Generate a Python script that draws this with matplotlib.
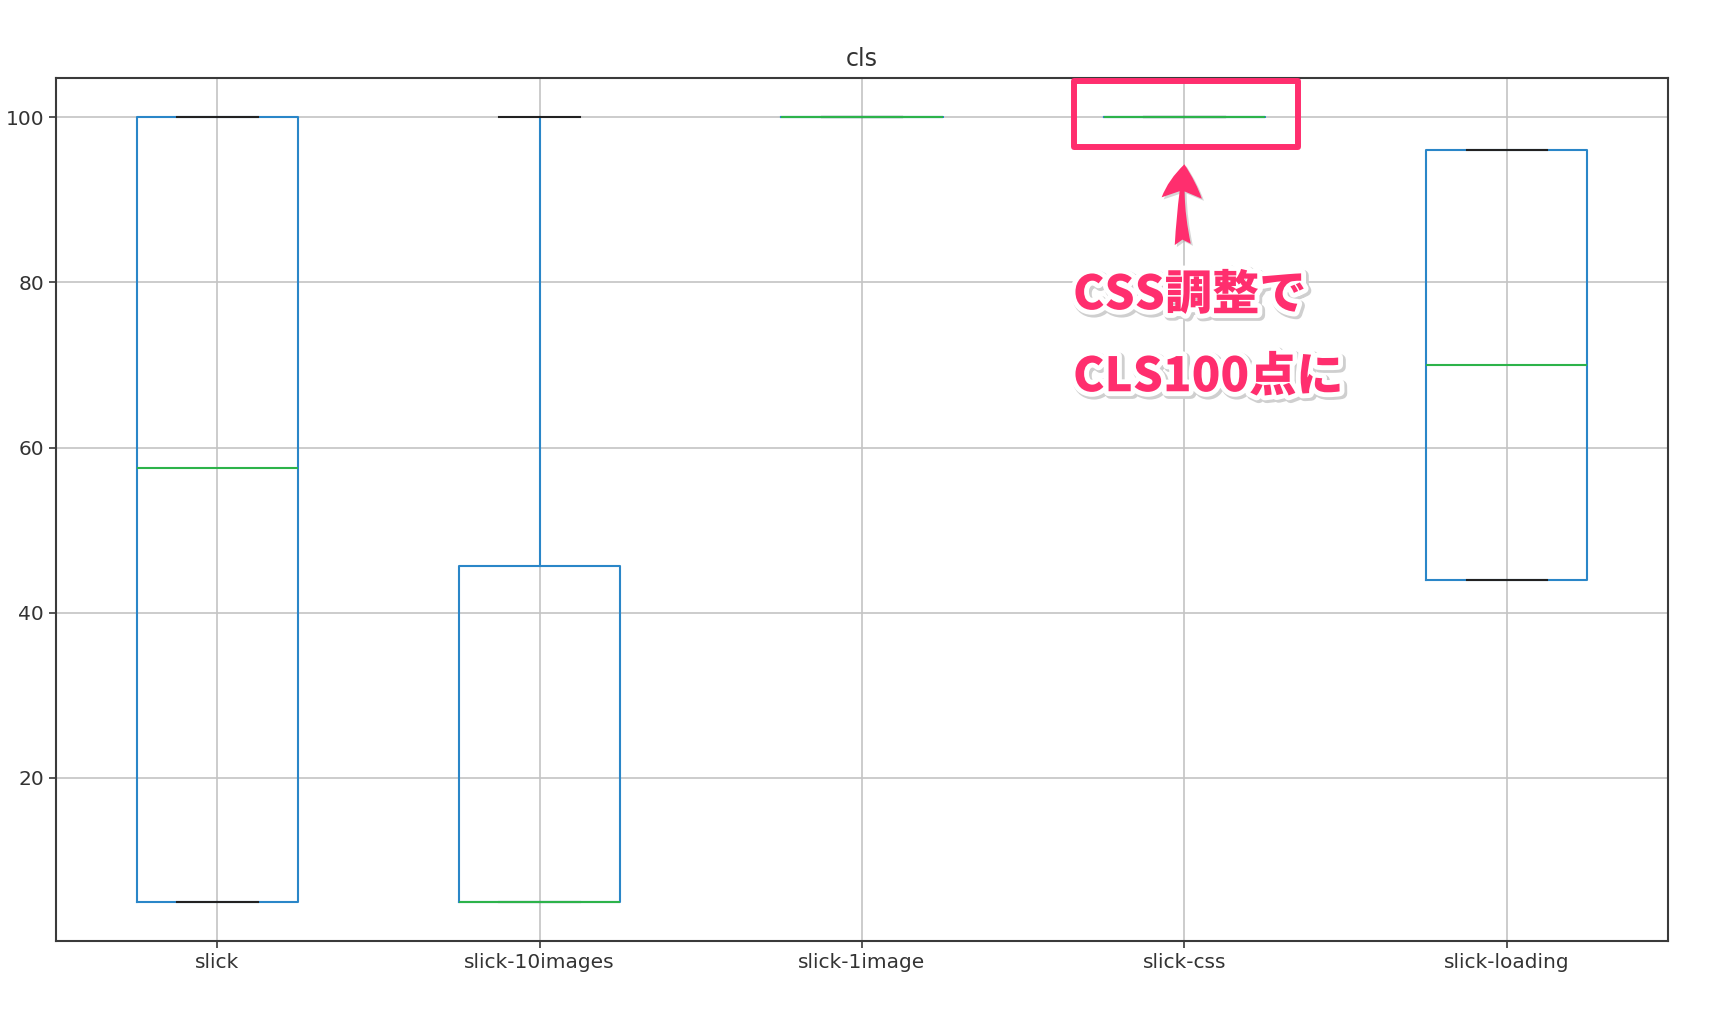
import matplotlib
matplotlib.use("Agg")
import matplotlib.pyplot as plt
from matplotlib.patches import Rectangle, FancyArrowPatch, ArrowStyle
import matplotlib.patheffects as pe

# ---- data ----
categories = ["slick", "slick-10images", "slick-1image", "slick-css", "slick-loading"]
whis_low   = [5.0,   5.0,   100.0, 100.0, 44.0]
q1_values  = [5.0,   5.0,   100.0, 100.0, 44.0]
medians    = [57.5,  5.0,   100.0, 100.0, 70.0]
q3_values  = [100.0, 45.6,  100.0, 100.0, 96.0]
whis_high  = [100.0, 100.0, 100.0, 100.0, 96.0]
title = "cls"
note_lines = ["CSS調整で", "CLS100点に"]

plt.rcParams['font.family'] = ['DejaVu Sans']
plt.rcParams['font.size'] = 14.5

W, H = 1720, 1022
fig = plt.figure(figsize=(W / 100, H / 100), dpi=100)
ax = fig.add_axes([56 / W, 1 - 941 / H, (1668 - 56) / W, (941 - 78) / H])

stats = []
for name, lo, a, m, b, hi in zip(categories, whis_low, q1_values, medians, q3_values, whis_high):
    stats.append(dict(label=name, whislo=lo, q1=a, med=m, q3=b, whishi=hi, fliers=[]))

lw = 1.5
ax.bxp(stats, widths=0.5, showfliers=False,
       boxprops=dict(color='#2a86c8', linewidth=lw),
       whiskerprops=dict(color='#2a86c8', linewidth=lw),
       capprops=dict(color='#222222', linewidth=lw),
       medianprops=dict(color='#2db34a', linewidth=lw))

ax.set_ylim(0.25, 104.75)
ax.set_xlim(0.5, 5.5)
ax.grid(True, color='#c4c4c4', linewidth=1.2)
ax.set_axisbelow(True)
ax.set_yticks([20, 40, 60, 80, 100])
for s in ax.spines.values():
    s.set_color('#3a3a3a')
    s.set_linewidth(1.5)
ax.tick_params(colors='#3a3a3a', labelcolor='#333333', length=5, width=1.2)
ax.set_title(title, fontsize=17, color='#333333', pad=9)

pink = '#FF2E6E'
# highlight rectangle around slick-css
rect = Rectangle((3.658, 96.4), 4.352 - 3.658, 104.34 - 96.4, fill=False,
                 edgecolor=pink, linewidth=4.3, joinstyle='round', clip_on=False, zorder=5)
ax.add_patch(rect)

arrow = FancyArrowPatch((3.995, 84.6), (4.0, 94.3),
                        arrowstyle=ArrowStyle.Fancy(head_length=0.42, head_width=0.5, tail_width=0.2),
                        mutation_scale=58, color=pink, linewidth=0,
                        connectionstyle="arc3,rad=-0.05", zorder=6, clip_on=False,
                        shrinkA=0, shrinkB=0)
arrow.set_path_effects([pe.SimplePatchShadow(offset=(1.5, -1.5), shadow_rgbFace='#999999', alpha=0.4),
                        pe.Normal()])
ax.add_patch(arrow)

effects = [pe.Stroke(linewidth=8, foreground='#cfcfcf', offset=(1.5, -1.5)),
           pe.Stroke(linewidth=7, foreground='white'),
           pe.Normal()]
for txt, yc in zip(note_lines, [295, 377]):
    fig.text(1073 / W, 1 - yc / H, txt, ha='left', va='center', fontsize=34,
             fontweight='black', color=pink,
             family=['Noto Sans CJK JP', 'DejaVu Sans'], path_effects=effects, zorder=10)

fig.savefig("out.png", dpi=100, facecolor='white')
